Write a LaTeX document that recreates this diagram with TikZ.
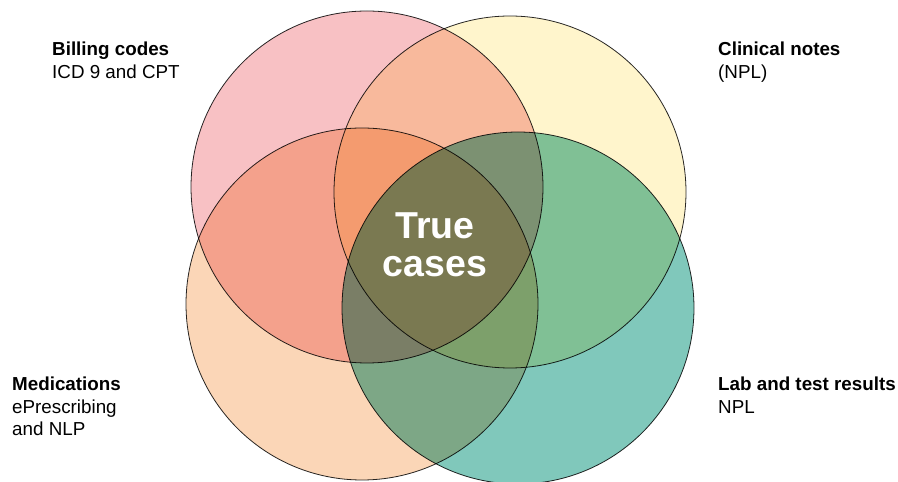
\documentclass[tikz,border=0pt]{standalone}
\usepackage{fontspec}
\setmainfont{Liberation Sans}
\definecolor{pinkc}{RGB}{248,193,196}
\definecolor{yellowc}{RGB}{255,245,204}
\definecolor{orangec}{RGB}{251,214,183}
\definecolor{tealc}{RGB}{128,200,187}
\definecolor{edgec}{RGB}{40,40,40}
\tikzset{
  setcircle/.style={circle, minimum size=352pt, inner sep=0pt, draw=edgec, line width=0.8pt, blend mode=multiply},
  lbl/.style={anchor=north west, inner sep=0pt, align=left, font=\fontsize{18.8}{22.5}\selectfont, text=black},
  big/.style={anchor=north, inner sep=0pt, align=center, font=\fontsize{37.5}{38}\selectfont\bfseries, text=white}
}
\begin{document}
\begin{tikzpicture}[x=1pt,y=1pt]
\useasboundingbox (0,0) rectangle (898,482);
\fill[white] (0,0) rectangle (898,482);
\node[setcircle, fill=pinkc] (billing) at (367,295) {};
\node[setcircle, fill=yellowc] (clinical) at (510,290) {};
\node[setcircle, fill=orangec] (meds) at (362,178) {};
\node[setcircle, fill=tealc] (lab) at (518,174) {};
\node[big] (truecases) at (435,269) {True\\cases};
\node[lbl] (lbilling) at (52,440) {\bfseries Billing codes\\ICD 9 and CPT};
\node[lbl] (lclinical) at (718,440) {\bfseries Clinical notes\\(NPL)};
\node[lbl] (lmeds) at (12,105) {\bfseries Medications\\ePrescribing\\and NLP};
\node[lbl] (llab) at (718,105) {\bfseries Lab and test results\\NPL};
\end{tikzpicture}
\end{document}
